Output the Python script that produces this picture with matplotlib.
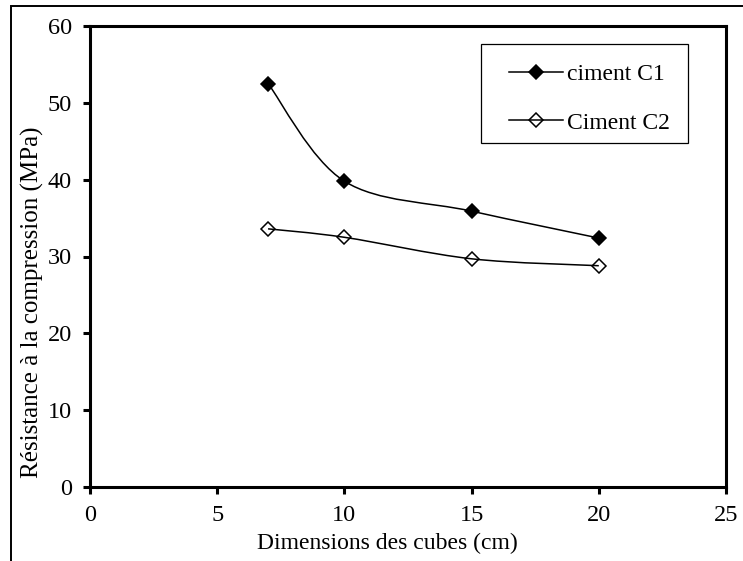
import matplotlib
matplotlib.use("Agg")
import matplotlib.pyplot as plt
from matplotlib.path import Path
from matplotlib.patches import PathPatch, Rectangle
from matplotlib.lines import Line2D
import numpy as np

# Data
dimensions = [7, 10, 15, 20]          # cm
ciment_c1 = [52.5, 39.8, 35.9, 32.4]  # MPa
ciment_c2 = [33.6, 32.5, 29.7, 28.8]  # MPa
series_labels = ["ciment C1", "Ciment C2"]
x_ticks = [0, 5, 10, 15, 20, 25]
y_ticks = [0, 10, 20, 30, 40, 50, 60]

plt.rcParams['font.family'] = ['Liberation Serif', 'DejaVu Serif']


def smooth_path(x, y):
    # Excel-like smoothed line: cubic bezier segments (Catmull-Rom control points)
    pts = np.column_stack([x, y]).astype(float)
    n = len(pts)
    verts = [pts[0]]
    codes = [Path.MOVETO]
    for i in range(n - 1):
        p0 = pts[max(i - 1, 0)]
        p1 = pts[i]
        p2 = pts[i + 1]
        p3 = pts[min(i + 2, n - 1)]
        verts += [p1 + (p2 - p0) / 6, p2 - (p3 - p1) / 6, p2]
        codes += [Path.CURVE4] * 3
    return Path(verts, codes)


W, H = 743, 561
fig = plt.figure(figsize=(W / 100, H / 100), dpi=100)
ax = fig.add_axes([90 / W, 1 - 487 / H, (726 - 90) / W, (487 - 26) / H])

# outer chart border (cut off at right and bottom in the original)
fig.patches.append(Rectangle((11 / W, -0.1), 1.2, 1.1 - 5.5 / H,
                             transform=fig.transFigure, fill=False,
                             lw=1.4, ec='black', clip_on=False))

styles = [dict(mfc='black'), dict(mfc='none')]
handles = []
for yv, st, lab in zip([ciment_c1, ciment_c2], styles, series_labels):
    ax.add_patch(PathPatch(smooth_path(dimensions, yv), fc='none', ec='black', lw=1.1, zorder=2))
    ax.plot(dimensions, yv, ls='none', marker='D', ms=7.5, mec='black', mew=1.1,
            zorder=3, clip_on=False, **st)
    handles.append(Line2D([], [], color='black', lw=1.1, marker='D', ms=7.5,
                          mec='black', mew=1.1, **st))

ax.set_xlim(0, 25)
ax.set_ylim(0, 60)
ax.set_xticks(x_ticks)
ax.set_yticks(y_ticks)

for s in ax.spines.values():
    s.set_linewidth(2.2)
ax.tick_params(axis='both', direction='out', length=5, width=2.2, labelsize=17.5)
ax.tick_params(axis='y', pad=8)
ax.tick_params(axis='x', pad=8)

ax.set_xlabel('Dimensions des cubes (cm)', fontsize=17, va='top')
ax.xaxis.set_label_coords(0.467, -0.1)
ax.set_ylabel('Résistance à la compression (MPa)', fontsize=18, va='center')
ax.yaxis.set_label_coords(-0.091, 0.40)

# legend box (Excel-style, wider padding left/right than top/bottom)
ax.add_patch(Rectangle((0.615, 0.746), 0.325, 0.215, transform=ax.transAxes,
                       fill=False, ec='black', lw=0.9, zorder=4))
leg = ax.legend(handles, series_labels, loc='upper left', bbox_to_anchor=(0.659, 0.919),
                borderaxespad=0, borderpad=0, fontsize=17, frameon=False,
                handlelength=2.29, handletextpad=0.17, labelspacing=1.15)

fig.savefig('out.png', dpi=100)
